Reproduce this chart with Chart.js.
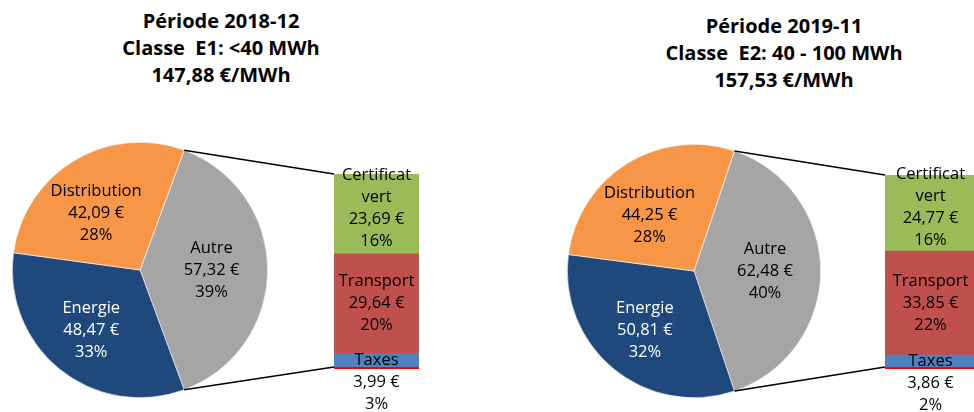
<!DOCTYPE html>
<html lang="fr">
<head>
<meta charset="UTF-8">
<title>Prix par MWh</title>
<script src="https://cdn.jsdelivr.net/npm/chart.js@4.4.0/dist/chart.umd.min.js"></script>
<style>
  html, body { margin: 0; padding: 0; background: #fff; overflow: hidden; }
  body { width: 974px; height: 412px; position: relative; font-family: "Open Sans", sans-serif; }
  canvas { position: absolute; }
  .titre { position: absolute; transform: translateX(-50%); text-align: center; white-space: pre;
           font-weight: bold; font-size: 20px; line-height: 27px; color: #000; }
</style>
</head>
<body>
<div class="titre" id="titre1" style="left:221px; top:7px"></div>
<div class="titre" id="titre2" style="left:784px; top:12px"></div>

<canvas id="pie1" width="256" height="256" style="left:12px; top:142px"></canvas>
<canvas id="bar1" width="109" height="261" style="left:322px; top:152px"></canvas>
<canvas id="pie2" width="254" height="254" style="left:567px; top:144px"></canvas>
<canvas id="bar2" width="115" height="260" style="left:873px; top:153px"></canvas>
<canvas id="liens" width="974" height="412" style="left:0; top:0; pointer-events:none"></canvas>

<script>
// données
const titres1 = ['Période 2018-12', 'Classe  E1: <40 MWh', '147,88 €/MWh'];
const titres2 = ['Période 2019-11', 'Classe  E2: 40 - 100 MWh', '157,53 €/MWh'];

const pieLabels = ['Autre', 'Energie', 'Distribution'];
const pieValues1 = [57.32, 48.47, 42.09];
const piePct1 = ['39%', '33%', '28%'];
const pieValues2 = [62.48, 50.81, 44.25];
const piePct2 = ['40%', '32%', '28%'];

// détail de "Autre" (du bas vers le haut)
const barLabels = [['Taxes'], ['Transport'], ['Certificat', 'vert']];
const barValues1 = [3.99, 29.64, 23.69];
const barPct1 = ['3%', '20%', '16%'];
const barValues2 = [3.86, 33.85, 24.77];
const barPct2 = ['2%', '22%', '16%'];

const pieColors = ['#A5A5A5', '#1F497D', '#F79646'];
const pieTextColors = ['#000', '#fff', '#000'];
const barColors = ['#4F81BD', '#C0504D', '#9BBB59'];

const FONT = '16.5px "Open Sans", sans-serif';
const LH = 22;

function euro(v) {
    return v.toFixed(2).replace('.', ',') + ' €';
}

document.getElementById('titre1').textContent = titres1.join('\n');
document.getElementById('titre2').textContent = titres2.join('\n');

// étiquettes dans les parts du camembert
const sliceLabels = {
    id: 'sliceLabels',
    afterDatasetsDraw(chart, args, opts) {
        const ctx = chart.ctx;
        const values = chart.data.datasets[0].data;
        ctx.save();
        ctx.font = FONT;
        ctx.textAlign = 'center';
        ctx.textBaseline = 'middle';
        chart.getDatasetMeta(0).data.forEach((arc, i) => {
            const mid = (arc.startAngle + arc.endAngle) / 2 + opts.shift[i];
            const r = arc.outerRadius * opts.dist[i];
            const cx = arc.x + r * Math.cos(mid);
            const cy = arc.y + r * Math.sin(mid);
            const lines = [pieLabels[i], euro(values[i]), opts.pct[i]];
            ctx.fillStyle = pieTextColors[i];
            lines.forEach((t, k) => {
                ctx.fillText(t, cx, cy + (k - (lines.length - 1) / 2) * LH);
            });
        });
        ctx.restore();
    }
};

// étiquettes de la barre empilée + trait rouge en bas
const barExtras = {
    id: 'barExtras',
    afterDatasetsDraw(chart, args, opts) {
        const ctx = chart.ctx;
        const area = chart.chartArea;
        ctx.save();
        const y0 = chart.scales.y.getPixelForValue(0);
        ctx.strokeStyle = '#FF0000';
        ctx.lineWidth = 2;
        ctx.beginPath();
        ctx.moveTo(area.left, y0 + 1);
        ctx.lineTo(area.right, y0 + 1);
        ctx.stroke();

        ctx.font = FONT;
        ctx.textAlign = 'center';
        ctx.textBaseline = 'middle';
        ctx.fillStyle = '#000';
        chart.data.datasets.forEach((ds, i) => {
            const bar = chart.getDatasetMeta(i).data[0];
            const h = bar.base - bar.y;
            const cy = (bar.y + bar.base) / 2;
            const lines = barLabels[i].concat([euro(ds.data[0]), opts.pct[i]]);
            let first;
            if (h < LH * 1.5) first = cy;
            else first = cy - (lines.length - 1) / 2 * LH - (lines.length > 3 ? 6 : 0);
            lines.forEach((t, k) => ctx.fillText(t, bar.x, first + k * LH));
        });
        ctx.restore();
    }
};

function makePie(id, values, pct) {
    const total = values.reduce((a, b) => a + b, 0);
    return new Chart(document.getElementById(id), {
        type: 'pie',
        data: {
            labels: pieLabels,
            datasets: [{ data: values, backgroundColor: pieColors, borderColor: '#fff', borderWidth: 0.6 }]
        },
        options: {
            responsive: false,
            animation: false,
            // "Autre" centré à droite, face à la barre
            rotation: 90 - values[0] / total * 180,
            layout: { padding: 0 },
            plugins: {
                legend: { display: false },
                tooltip: { enabled: false },
                sliceLabels: { pct: pct, dist: [0.56, 0.61, 0.56], shift: [0, 0, -0.12] }
            }
        },
        plugins: [sliceLabels]
    });
}

function makeBar(id, values, pct) {
    const total = values.reduce((a, b) => a + b, 0);
    return new Chart(document.getElementById(id), {
        type: 'bar',
        data: {
            labels: [''],
            datasets: values.map((v, i) => ({
                label: barLabels[i].join(' '),
                data: [v],
                backgroundColor: barColors[i],
                barPercentage: 1,
                categoryPercentage: 1
            }))
        },
        options: {
            responsive: false,
            animation: false,
            layout: { padding: { left: 12, right: 12, top: 22, bottom: 46 } },
            scales: {
                x: { display: false, stacked: true },
                y: { display: false, stacked: true, min: 0, max: total }
            },
            plugins: {
                legend: { display: false },
                tooltip: { enabled: false },
                barExtras: { pct: pct }
            }
        },
        plugins: [barExtras]
    });
}

const pie1 = makePie('pie1', pieValues1, piePct1);
const bar1 = makeBar('bar1', barValues1, barPct1);
const pie2 = makePie('pie2', pieValues2, piePct2);
const bar2 = makeBar('bar2', barValues2, barPct2);

// traits reliant la part "Autre" à la barre
function relier(ctx, pie, bar) {
    const arc = pie.getDatasetMeta(0).data[0];
    const pc = pie.canvas, bc = bar.canvas;
    const ox = pc.offsetLeft, oy = pc.offsetTop;
    const bx = bc.offsetLeft, by = bc.offsetTop;
    const R = arc.outerRadius;
    const area = bar.chartArea;
    ctx.beginPath();
    ctx.moveTo(ox + arc.x + R * Math.cos(arc.startAngle), oy + arc.y + R * Math.sin(arc.startAngle));
    ctx.lineTo(bx + area.left, by + area.top);
    ctx.moveTo(ox + arc.x + R * Math.cos(arc.endAngle), oy + arc.y + R * Math.sin(arc.endAngle));
    ctx.lineTo(bx + area.left, by + area.bottom);
    ctx.stroke();
}

const lctx = document.getElementById('liens').getContext('2d');
lctx.strokeStyle = '#000';
lctx.lineWidth = 1.5;
relier(lctx, pie1, bar1);
relier(lctx, pie2, bar2);
</script>
</body>
</html>
